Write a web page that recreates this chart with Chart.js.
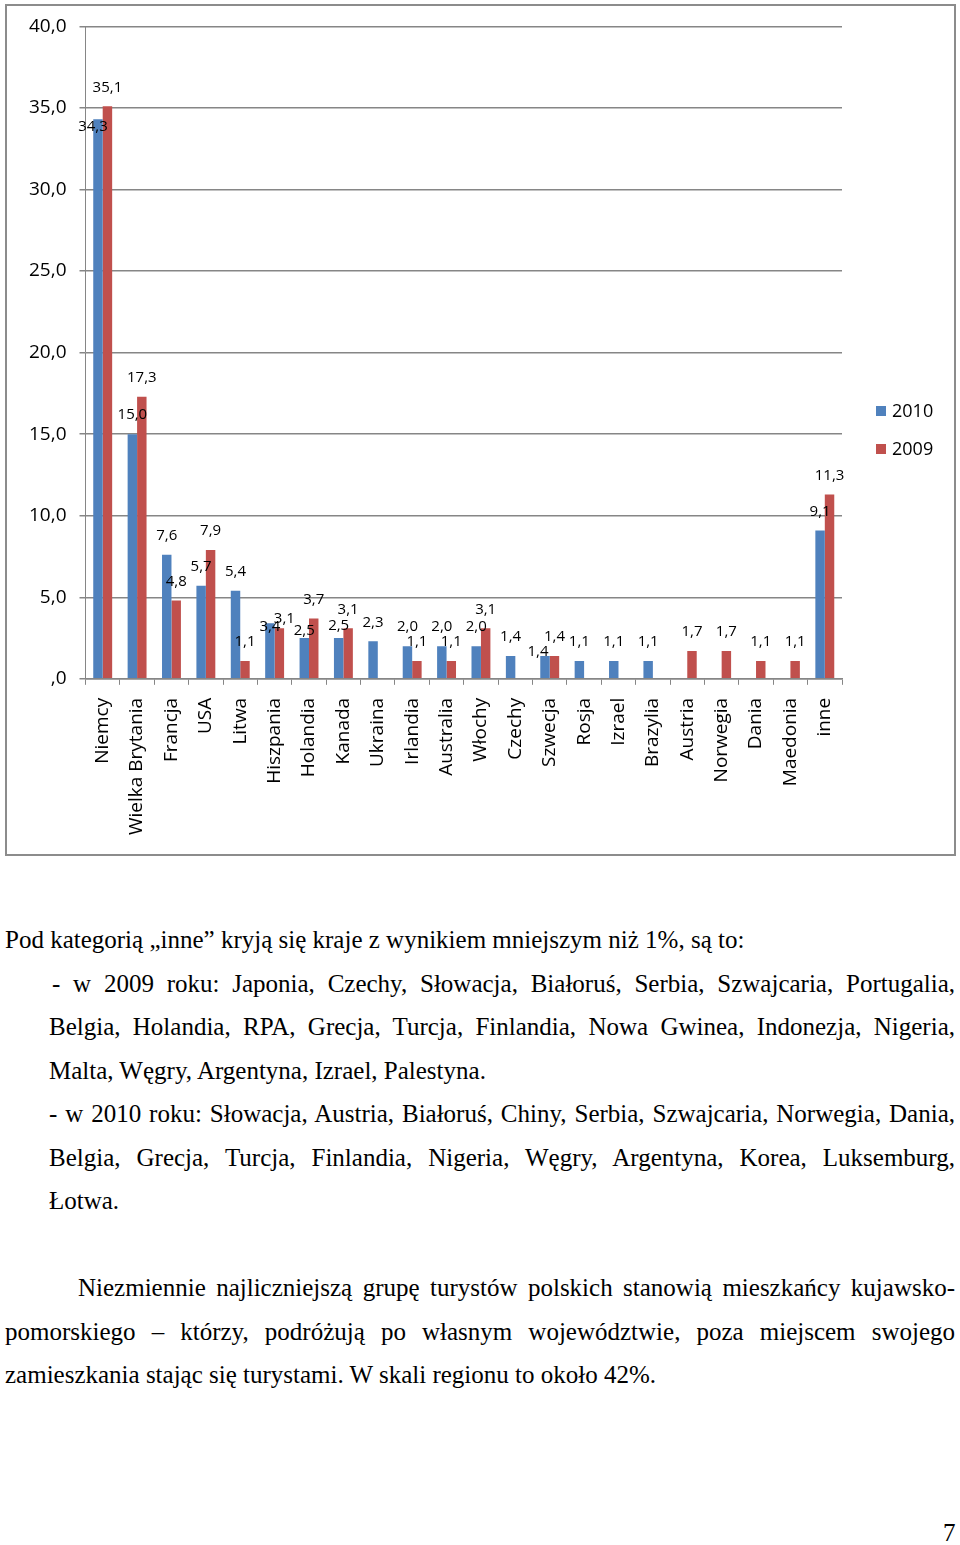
<!DOCTYPE html>
<html lang="pl">
<head>
<meta charset="utf-8">
<script src="https://cdn.jsdelivr.net/npm/chart.js@4.4.1/dist/chart.umd.min.js"></script>
<style>
  body { margin: 0; background: #fff; width: 960px; height: 1545px; position: relative; overflow: hidden; }
  #chartBox { position: absolute; left: 5px; top: 4px; width: 947px; height: 848px; border: 2px solid #8c8c8c; overflow: hidden; }
  #chartInner { position: absolute; left: 0; top: -4px; width: 947px; height: 852px; }
  .ln { position: absolute; font-family: "Liberation Serif", "Times New Roman", serif; font-size: 25px;
        line-height: 30px; height: 30px; color: #000; white-space: normal; }
  .j { text-align: justify; text-align-last: justify; }
</style>
</head>
<body>
<div id="chartBox"><div id="chartInner"><canvas id="tourChart"></canvas></div></div>

<div class="ln" style="left:5px; top:925px;">Pod kategorią „inne” kryją się kraje z wynikiem mniejszym niż 1%, są to:</div>
<div class="ln j" style="left:52px; width:903px; top:969px;">- w 2009 roku: Japonia, Czechy, Słowacja, Białoruś, Serbia, Szwajcaria, Portugalia,</div>
<div class="ln j" style="left:49px; width:906px; top:1012px;">Belgia, Holandia, RPA, Grecja, Turcja, Finlandia, Nowa Gwinea, Indonezja, Nigeria,</div>
<div class="ln" style="left:49px; top:1056px;">Malta, Węgry, Argentyna, Izrael, Palestyna.</div>
<div class="ln j" style="left:49px; width:906px; top:1099px;">- w 2010 roku: Słowacja, Austria, Białoruś, Chiny, Serbia, Szwajcaria, Norwegia, Dania,</div>
<div class="ln j" style="left:49px; width:906px; top:1143px;">Belgia, Grecja, Turcja, Finlandia, Nigeria, Węgry, Argentyna, Korea, Luksemburg,</div>
<div class="ln" style="left:49px; top:1186px;">Łotwa.</div>
<div class="ln j" style="left:78px; width:877px; top:1273px;">Niezmiennie najliczniejszą grupę turystów polskich stanowią mieszkańcy kujawsko-</div>
<div class="ln j" style="left:5px; width:950px; top:1317px;">pomorskiego – którzy, podróżują po własnym województwie, poza miejscem swojego</div>
<div class="ln" style="left:5px; top:1360px;">zamieszkania stając się turystami. W skali regionu to około 42%.</div>
<div class="ln" style="left:943px; top:1518px;">7</div>

<script>
// dane z wykresu
const categories = ['Niemcy', 'Wielka Brytania', 'Francja', 'USA', 'Litwa', 'Hiszpania', 'Holandia',
  'Kanada', 'Ukraina', 'Irlandia', 'Australia', 'Włochy', 'Czechy', 'Szwecja', 'Rosja', 'Izrael',
  'Brazylia', 'Austria', 'Norwegia', 'Dania', 'Maedonia', 'inne'];
const values2010 = [34.3, 15.0, 7.6, 5.7, 5.4, 3.4, 2.5, 2.5, 2.3, 2.0, 2.0, 2.0, 1.4, 1.4, 1.1, 1.1, 1.1,
  null, null, null, null, 9.1];
const values2009 = [35.1, 17.3, 4.8, 7.9, 1.1, 3.1, 3.7, 3.1, null, 1.1, 1.1, 3.1, null, 1.4, null, null, null,
  1.7, 1.7, 1.1, 1.1, 11.3];
const seriesNames = ['2010', '2009'];
const yTicks = [0, 5, 10, 15, 20, 25, 30, 35, 40];

// przesunięcia etykiet (jak ręcznie poprzesuwane w Excelu)
const labelNudge = {
  '0:0': [-5, 26],
  '0:5': [0, 22],
  '1:5': [5, 9],
  '0:6': [0, 12],
  '0:7': [0, 7],
  '0:13': [-7, 15]
};

const fmt = v => v === 0 ? ',0' : v.toFixed(1).replace('.', ',');
const axisGray = '#868686';
const chartFont = '"Open Sans", "DejaVu Sans", sans-serif';

const valueLabels = {
  id: 'valueLabels',
  afterDatasetsDraw(chart) {
    const ctx = chart.ctx;
    ctx.save();
    ctx.font = '15px ' + chartFont;
    ctx.fillStyle = '#000';
    ctx.textAlign = 'center';
    ctx.textBaseline = 'middle';
    chart.data.datasets.forEach((ds, di) => {
      chart.getDatasetMeta(di).data.forEach((bar, i) => {
        const v = ds.data[i];
        if (v === null) return;
        const n = labelNudge[di + ':' + i] || [0, 0];
        ctx.fillText(fmt(v), bar.x + n[0], bar.y - 19 + n[1]);
      });
    });
    ctx.restore();
  }
};

const sideLegend = {
  id: 'sideLegend',
  afterDraw(chart) {
    const ctx = chart.ctx;
    const x = chart.chartArea.right + 34;
    const mid = chart.height / 2 + 2;
    ctx.save();
    ctx.font = '18px ' + chartFont;
    ctx.textBaseline = 'middle';
    chart.data.datasets.forEach((ds, i) => {
      const y = mid - 19 + i * 38;
      ctx.fillStyle = ds.backgroundColor;
      ctx.fillRect(x, y - 5, 10, 10);
      ctx.fillStyle = '#000';
      ctx.fillText(ds.label, x + 16, y + 1);
    });
    ctx.restore();
  }
};

new Chart(document.getElementById('tourChart'), {
  type: 'bar',
  data: {
    labels: categories,
    datasets: [
      { label: seriesNames[0], data: values2010, backgroundColor: '#4F81BD' },
      { label: seriesNames[1], data: values2009, backgroundColor: '#C0504D' }
    ]
  },
  options: {
    responsive: true,
    maintainAspectRatio: false,
    animation: false,
    categoryPercentage: 0.55,
    barPercentage: 1,
    layout: { padding: { top: 3, left: 9, right: 112, bottom: 6 } },
    plugins: {
      legend: { display: false },
      tooltip: { enabled: false }
    },
    scales: {
      x: {
        grid: { drawOnChartArea: false, drawTicks: true, tickLength: 6, color: axisGray },
        border: { color: axisGray, width: 1.5 },
        ticks: {
          autoSkip: false, minRotation: 90, maxRotation: 90, padding: 13,
          color: '#000', font: { family: chartFont, size: 19 }
        }
      },
      y: {
        min: 0,
        max: 40,
        afterBuildTicks: scale => { scale.ticks = yTicks.map(v => ({ value: v })); },
        grid: { color: axisGray, lineWidth: 1.5, tickLength: 6 },
        border: { color: axisGray, width: 1 },
        ticks: {
          padding: 13, color: '#000', font: { family: chartFont, size: 19 },
          callback: v => fmt(v)
        }
      }
    }
  },
  plugins: [valueLabels, sideLegend]
});
</script>
</body>
</html>
